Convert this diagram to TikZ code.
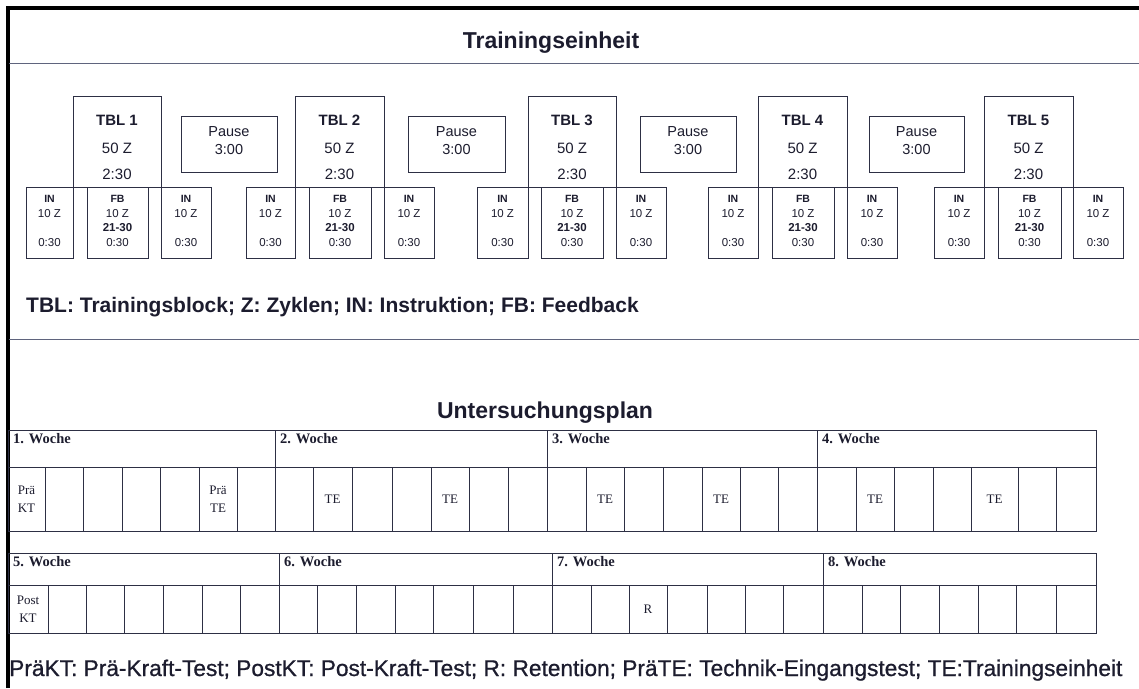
\documentclass[tikz,border=0pt]{standalone}
\usepackage{fontspec}
\setmainfont{Liberation Serif}
\newfontfamily\arial{Liberation Sans}
\newfontfamily\arialheavy[FakeBold=0.8]{Liberation Sans}
\definecolor{ink}{RGB}{28,28,46}
\definecolor{rule}{RGB}{45,47,68}
\definecolor{sep}{RGB}{95,100,125}
\newcommand\weekrow[7]{%
  \node[box, minimum width={(#6-#5)*1pt}, minimum height={#3*1pt}] (wk#1) at (#5,#2) {};
  \node[weektxt] (wk#1-t) at ({#5+5},{#2+13.5}) {#1. Woche};
  \foreach \x [remember=\x as \lx (initially #5), count=\i] in {#7} {
    \node[box, minimum width={(\x-\lx)*1pt}, minimum height={#4*1pt}] (wk#1-c\i) at (\lx,{#2+#3}) {};
  }
}
\begin{document}
\begin{tikzpicture}[x=1pt,y=-1pt,
  box/.style={draw=rule, line width=1pt, rectangle, inner sep=0pt, outer sep=0pt, anchor=north west},
  lbl/.style={text=ink, inner sep=0pt, anchor=base},
  tbltitle/.style={lbl, font=\arial\bfseries\fontsize{15}{15}\selectfont},
  tblval/.style={lbl, font=\arial\fontsize{15}{15}\selectfont},
  pausetxt/.style={lbl, font=\arial\fontsize{14.5}{14.5}\selectfont},
  smallbold/.style={lbl, font=\arial\bfseries\fontsize{10.5}{10.5}\selectfont},
  smallval/.style={lbl, font=\arial\fontsize{11.5}{11.5}\selectfont},
  heading/.style={lbl, font=\arial\bfseries\fontsize{23}{23}\selectfont},
  legend/.style={text=ink, inner sep=0pt, anchor=base west},
  weektxt/.style={text=ink, inner sep=0pt, anchor=base west, font=\bfseries\fontsize{14.5}{14.5}\selectfont},
  celltxt/.style={text=ink, inner sep=0pt, align=center, font=\fontsize{13}{18}\selectfont},
]
\fill[white] (0,0) rectangle (1139,688);
\useasboundingbox (0,0) rectangle (1139,688);

% frame
\draw[line width=3.2pt, black] (8,688) -- (8,8) -- (1139,8);
\draw[sep, line width=0.9pt] (9,63) -- (1139,63);
\draw[sep, line width=0.9pt] (9,339) -- (1139,339);

% headings
\node[heading] (h1) at (551,48) {Trainingseinheit};
\node[heading] (h2) at (545,418) {Untersuchungsplan};

% training blocks
\foreach \n/\a/\b/\c/\d/\e/\f in {1/26/73/87/148/161/211, 2/246/295/309/371/384/434, 3/477/528/541/603/616/666, 4/708/758/772/834/847/897, 5/934/984/998/1061/1073/1123}{
  \node[box, minimum width={(\e-\b)*1pt}, minimum height=91pt] (tbl\n) at (\b,96) {};
  \node[box, minimum width={(\b-\a)*1pt}, minimum height=71pt] (ina\n) at (\a,187) {};
  \node[box, minimum width={(\d-\c)*1pt}, minimum height=71pt] (fb\n) at (\c,187) {};
  \node[box, minimum width={(\f-\e)*1pt}, minimum height=71pt] (inb\n) at (\e,187) {};
  \node[tbltitle] (tbl\n-a) at ({(\b+\e)/2},125.5) {TBL \n};
  \node[tblval] (tbl\n-b) at ({(\b+\e)/2},153) {50 Z};
  \node[tblval] (tbl\n-c) at ({(\b+\e)/2},179.5) {2:30};
  \node[smallbold] (ina\n-a) at ({(\a+\b)/2},202.5) {IN};
  \node[smallval] (ina\n-b) at ({(\a+\b)/2},217) {10 Z};
  \node[smallval] (ina\n-c) at ({(\a+\b)/2},246.5) {0:30};
  \node[smallbold] (fb\n-a) at ({(\c+\d)/2},202.5) {FB};
  \node[smallval] (fb\n-b) at ({(\c+\d)/2},217) {10 Z};
  \node[smallbold, font=\arial\bfseries\fontsize{11.5}{11.5}\selectfont] (fb\n-c) at ({(\c+\d)/2},231) {21-30};
  \node[smallval] (fb\n-d) at ({(\c+\d)/2},246.5) {0:30};
  \node[smallbold] (inb\n-a) at ({(\e+\f)/2},202.5) {IN};
  \node[smallval] (inb\n-b) at ({(\e+\f)/2},217) {10 Z};
  \node[smallval] (inb\n-c) at ({(\e+\f)/2},246.5) {0:30};
}
\foreach \n/\a/\b in {1/181/277, 2/408/505, 3/640/736, 4/869/964}{
  \node[box, minimum width={(\b-\a)*1pt}, minimum height=56pt] (p\n) at (\a,116) {};
  \node[pausetxt] (p\n-a) at ({(\a+\b)/2},136) {Pause};
  \node[pausetxt] (p\n-b) at ({(\a+\b)/2},154) {3:00};
}

\node[legend, font=\arial\bfseries\fontsize{21}{21}\selectfont] (leg1) at (26,312) {TBL: Trainingsblock; Z: Zyklen; IN: Instruktion; FB: Feedback};

% plan tables
\weekrow{1}{430}{37}{64}{8}{275}{45,83,122,160,199,237,275}
\weekrow{2}{430}{37}{64}{275}{547}{313,352,392,431,469,508,547}
\weekrow{3}{430}{37}{64}{547}{817}{586,624,663,702,740,778,817}
\weekrow{4}{430}{37}{64}{817}{1096}{856,894,933,971,1018,1056,1096}
\weekrow{5}{553}{32}{48}{8}{279}{48,86,124,163,202,240,279}
\weekrow{6}{553}{32}{48}{279}{552}{317,356,395,433,473,513,552}
\weekrow{7}{553}{32}{48}{552}{823}{591,629,667,707,745,783,823}
\weekrow{8}{553}{32}{48}{823}{1096}{862,900,939,978,1016,1056,1096}

\node[celltxt] (pkt) at (wk1-c1) {Prä\\KT};
\node[celltxt] (pte) at (wk1-c6) {Prä\\TE};
\node[celltxt] (te1) at (wk2-c2) {TE};
\node[celltxt] (te2) at (wk2-c5) {TE};
\node[celltxt] (te3) at (wk3-c2) {TE};
\node[celltxt] (te4) at (wk3-c5) {TE};
\node[celltxt] (te5) at (wk4-c2) {TE};
\node[celltxt] (te6) at (wk4-c5) {TE};
\node[celltxt] (postkt) at (wk5-c1) {Post\\KT};
\node[celltxt] (ret) at (wk7-c3) {R};

\node[legend, font=\arialheavy\fontsize{22.7}{22.7}\selectfont] (leg2) at (9,676) {PräKT: Prä-Kraft-Test; PostKT: Post-Kraft-Test; R: Retention; PräTE: Technik-Eingangstest; TE:Trainingseinheit};
\end{tikzpicture}
\end{document}
